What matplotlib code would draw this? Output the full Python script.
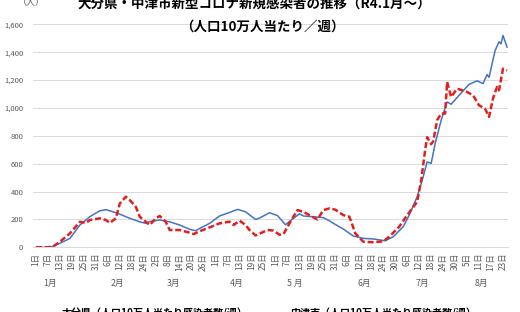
import pandas as pd
import matplotlib
matplotlib.use('Agg')
import matplotlib.pyplot as plt
from matplotlib.transforms import blended_transform_factory

plt.rcParams['font.family'] = ['Noto Sans CJK JP', 'DejaVu Sans']

# 2022/1/1 からの経過日数 と 人口10万人当たり新規感染者数（週）
oita_day = [0, 5, 8, 12, 17, 22, 27, 32, 35, 37, 42, 47, 52, 55, 57, 62, 67, 72,
            77, 80, 82, 87, 92, 97, 101, 105, 110, 112, 117, 121, 125, 129, 132,
            134, 139, 144, 147, 149, 154, 159, 164, 169, 175, 179, 184, 187, 191,
            194, 196, 198, 200, 203, 206, 208, 212, 217, 221, 224, 226, 227, 230,
            232, 233, 234, 236]
oita_val = [0, 0, 5, 29, 64, 160, 220, 262, 270, 262, 238, 208, 183, 172, 185,
            196, 183, 160, 129, 119, 135, 172, 225, 250, 272, 255, 200, 210, 248,
            228, 162, 208, 240, 225, 219, 213, 190, 172, 131, 81, 64, 60, 47, 76,
            148, 231, 363, 506, 613, 602, 745, 912, 1043, 1027, 1091, 1170, 1195,
            1175, 1240, 1220, 1410, 1475, 1460, 1521, 1437]

nakatsu_day = [0, 6, 9, 12, 17, 22, 25, 27, 32, 35, 37, 40, 42, 45, 47, 50, 52,
               55, 57, 60, 62, 65, 67, 72, 77, 79, 82, 87, 92, 97, 99, 102, 105,
               107, 110, 116, 119, 122, 124, 127, 131, 134, 137, 141, 144, 147,
               150, 154, 157, 160, 164, 169, 174, 177, 182, 186, 191, 193, 195,
               196, 198, 199, 201, 203, 205, 206, 208, 211, 216, 219, 222, 225,
               227, 229, 231, 232, 234, 236]
nakatsu_val = [0, 0, 10, 40, 100, 183, 175, 196, 208, 196, 175, 208, 315, 363,
               339, 291, 219, 183, 160, 208, 225, 183, 124, 124, 105, 95, 115,
               143, 172, 184, 160, 191, 160, 124, 85, 124, 120, 90, 95, 172, 267,
               255, 231, 200, 267, 279, 270, 231, 220, 100, 40, 36, 43, 76, 148,
               231, 327, 480, 700, 790, 740, 760, 912, 960, 960, 1187, 1079, 1139,
               1115, 1091, 1019, 995, 936, 1070, 1151, 1127, 1282, 1270]

month_labels = ['1月', '2月', '3月', '4月', '5 月', '6月', '7月', '8月']
yticks = [0, 200, 400, 600, 800, 1000, 1200, 1400, 1600]

start = pd.Timestamp('2022-01-01')
tick_dates = pd.date_range('2022-01-01', '2022-08-23', freq='6D')
tick_pos = [(d - start).days for d in tick_dates]
tick_lab = [f'{d.day}日' for d in tick_dates]

fig = plt.figure(figsize=(5.2, 3.12), dpi=100)
ax = fig.add_axes([33 / 520, 1 - 247.3 / 312, 475 / 520, 222.9 / 312])

ax.plot(oita_day, oita_val, color='#4472C4', lw=1.1, zorder=3)
ax.plot(nakatsu_day, nakatsu_val, color='#E0201E', lw=1.8,
        linestyle=(0, (2.4, 1.1)), zorder=4)

ax.set_xlim(-1.5, 236.5)
ax.set_ylim(0, 1600)
ax.set_yticks(yticks)
ax.set_yticklabels([f'{v:,}' for v in yticks], fontsize=5.5, color='#595959')
ax.set_xticks(tick_pos)
ax.set_xticklabels(tick_lab, rotation=90, fontsize=6, color='#595959',
                   va='top', ha='center')
ax.tick_params(axis='y', length=0, pad=7)
ax.tick_params(axis='x', length=0, pad=4)
ax.grid(axis='y', color='#D9D9D9', lw=0.7)
for s in ['top', 'right', 'left']:
    ax.spines[s].set_visible(False)
ax.spines['bottom'].set_color('#D9D9D9')
ax.spines['bottom'].set_linewidth(0.7)

# 月ラベル
month_x = [6.8, 40.8, 68.9, 100.5, 129.8, 164.3, 193.4, 223]
tr = blended_transform_factory(ax.transData, fig.transFigure)
for x, lab in zip(month_x, month_labels):
    fig.text(x, 1 - 283 / 312, lab, transform=tr, fontsize=6.3, color='#595959',
             ha='center', va='center')

fig.text(254 / 520, 1 - 4 / 312, '大分県・中津市新型コロナ新規感染者の推移（R4.1月～）',
         fontsize=9.7, fontweight='bold', ha='center', va='center')
fig.text(262 / 520, 1 - 27 / 312, '（人口10万人当たり／週）',
         fontsize=9.7, fontweight='bold', ha='center', va='center')
fig.text(31 / 520, 1 - 3 / 312, '（人）', fontsize=6.5, color='#595959',
         ha='center', va='center')

# 凡例（下端で切れている）
fig.text(62 / 520, 1 - 313 / 312, '大分県（人口10万人当たり感染者数/週）',
         fontsize=7.2, fontweight='bold', ha='left', va='center')
fig.text(290 / 520, 1 - 313 / 312, '中津市（人口10万人当たり感染者数/週）',
         fontsize=7.2, fontweight='bold', ha='left', va='center')

fig.savefig('out.png', dpi=100)
